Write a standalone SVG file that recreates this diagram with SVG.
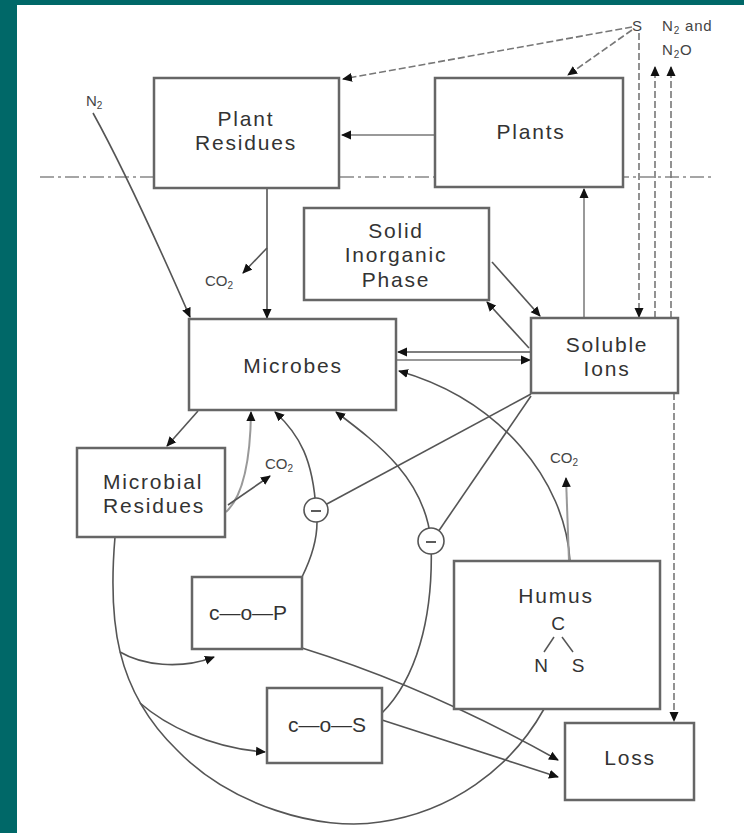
<svg xmlns="http://www.w3.org/2000/svg" width="744" height="833" viewBox="0 0 744 833">
<defs>
<marker id="ah" markerUnits="userSpaceOnUse" markerWidth="10" markerHeight="10" refX="9" refY="5" orient="auto">
<path d="M0,0.5 L10,5 L0,9.5 z" fill="#111"/>
</marker>
<style>
.box{fill:#fff;stroke:#666;stroke-width:2.5}
.lbl{font-family:"Liberation Sans",Arial,sans-serif;font-size:21px;fill:#333;text-anchor:middle;letter-spacing:1.8px}
.chem{font-family:"Liberation Sans",Arial,sans-serif;font-size:21px;fill:#333;text-anchor:middle}
.sm{font-family:"Liberation Sans",Arial,sans-serif;font-size:15px;fill:#444}
.ln{fill:none;stroke:#555;stroke-width:1.6}
.lt{fill:none;stroke:#999;stroke-width:2}
.ds{fill:none;stroke:#777;stroke-width:1.6;stroke-dasharray:7 3}
.gl{fill:none;stroke:#888;stroke-width:1.5;stroke-dasharray:14 4 3 4}
</style>
</defs>
<rect x="0" y="0" width="744" height="833" fill="#006868"/>
<rect x="17" y="5" width="727" height="828" fill="#fff"/>
<line class="gl" x1="40" y1="177" x2="715" y2="177"/>

<g id="connectors">
<path class="ds" d="M632,27 L343,79" marker-end="url(#ah)"/>
<path class="ds" d="M632,30 L568,75" marker-end="url(#ah)"/>
<path class="ds" d="M639,33 L639,317" marker-end="url(#ah)"/>
<path class="ds" d="M655,318 L655,67" marker-end="url(#ah)"/>
<path class="ds" d="M671,318 L671,67" marker-end="url(#ah)"/>
<path class="lt" d="M435,135 L342,135" marker-end="url(#ah)"/>
<path class="lt" d="M584,318 L584,189" marker-end="url(#ah)"/>
<path class="ln" d="M267,188 L267,318" marker-end="url(#ah)"/>
<path class="ln" d="M267,248 L243,273" marker-end="url(#ah)"/>
<path class="ln" d="M93,113 Q130,180 190,317" marker-end="url(#ah)"/>
<path class="ln" d="M492,262 L540,316" marker-end="url(#ah)"/>
<path class="ln" d="M529,348 L487,302" marker-end="url(#ah)"/>
<path class="ln" d="M531,352 L398,352" marker-end="url(#ah)"/>
<path class="lt" d="M396,360 L530,360" marker-end="url(#ah)"/>
<path class="ln" d="M570,561 C565,480 500,400 399,371" marker-end="url(#ah)"/>
<path class="lt" d="M569,561 L566,478" marker-end="url(#ah)"/>
<path class="ln" d="M198,411 L167,446" marker-end="url(#ah)"/>
<path class="lt" d="M226,512 Q250,490 251,412" marker-end="url(#ah)"/>
<path class="ln" d="M228,505 L270,476" marker-end="url(#ah)"/>
<path class="ln" d="M302,577 C318,545 318,522 316,510 C313,460 300,435 275,412" marker-end="url(#ah)"/>
<path class="ln" d="M382,713 C415,680 434,620 431,541 C425,480 380,445 336,412" marker-end="url(#ah)"/>
<path class="ln" d="M531,394 L325,505"/>
<path class="ln" d="M531,396 L438,532"/>
<path class="ln" d="M115,537 C108,620 115,690 177,750 C230,805 320,832 380,822 C450,812 510,770 544,709"/>
<path class="ln" d="M120,652 C142,665 180,670 214,657" marker-end="url(#ah)"/>
<path class="ln" d="M140,703 C165,725 210,748 265,752" marker-end="url(#ah)"/>
<path class="ln" d="M302,648 Q430,688 558,760" marker-end="url(#ah)"/>
<path class="ln" d="M382,720 L558,777" marker-end="url(#ah)"/>
<path class="ds" d="M674,393 L674,721" marker-end="url(#ah)"/>
<circle cx="316" cy="510" r="12" fill="#fff" stroke="#555" stroke-width="1.6"/>
<line x1="311" y1="511" x2="321" y2="511" stroke="#333" stroke-width="1.6"/>
<circle cx="431" cy="541" r="13" fill="#fff" stroke="#555" stroke-width="1.6"/>
<line x1="426" y1="542" x2="436" y2="542" stroke="#333" stroke-width="1.6"/>
</g>

<g id="plant-residues">
<rect class="box" x="154" y="78" width="185" height="110"/>
<text class="lbl" x="246" y="126">Plant</text>
<text class="lbl" x="246" y="150">Residues</text>
</g>
<g id="plants">
<rect class="box" x="435" y="78" width="188" height="109"/>
<text class="lbl" x="531" y="139">Plants</text>
</g>
<g id="solid-inorganic-phase">
<rect class="box" x="304" y="208" width="185" height="92"/>
<text class="lbl" x="396" y="238">Solid</text>
<text class="lbl" x="396" y="262">Inorganic</text>
<text class="lbl" x="396" y="287">Phase</text>
</g>
<g id="microbes">
<rect class="box" x="189" y="319" width="207" height="91"/>
<text class="lbl" x="293" y="373">Microbes</text>
</g>
<g id="soluble-ions">
<rect class="box" x="531" y="318" width="147" height="75"/>
<text class="lbl" x="607" y="352">Soluble</text>
<text class="lbl" x="607" y="376">Ions</text>
</g>
<g id="microbial-residues">
<rect class="box" x="77" y="448" width="148" height="89"/>
<text class="lbl" x="153" y="489">Microbial</text>
<text class="lbl" x="154" y="513">Residues</text>
</g>
<g id="c-o-p">
<rect class="box" x="192" y="577" width="110" height="72"/>
<text class="chem" x="248" y="620">c—o—P</text>
</g>
<g id="c-o-s">
<rect class="box" x="267" y="688" width="115" height="75"/>
<text class="chem" x="327" y="732">c—o—S</text>
</g>
<g id="humus">
<rect class="box" x="454" y="561" width="206" height="148"/>
<text class="lbl" x="556" y="603">Humus</text>
<text class="chem" x="558" y="630" style="font-size:19px">C</text>
<text class="chem" x="541" y="672" style="font-size:19px">N</text>
<text class="chem" x="578" y="672" style="font-size:19px">S</text>
<line x1="554" y1="637" x2="544" y2="652" stroke="#555" stroke-width="1.5"/>
<line x1="562" y1="637" x2="573" y2="652" stroke="#555" stroke-width="1.5"/>
</g>
<g id="loss">
<rect class="box" x="565" y="723" width="129" height="77"/>
<text class="lbl" x="630" y="765">Loss</text>
</g>

<g id="labels">
<text class="sm" x="86" y="106">N<tspan font-size="10" dy="3">2</tspan></text>
<text class="sm" x="205" y="286">CO<tspan font-size="10" dy="3">2</tspan></text>
<text class="sm" x="265" y="469">CO<tspan font-size="10" dy="3">2</tspan></text>
<text class="sm" x="550" y="463">CO<tspan font-size="10" dy="3">2</tspan></text>
<text class="sm" x="632" y="31" font-size="14">S</text>
<text class="sm" x="662" y="31" letter-spacing="0.8">N<tspan font-size="10" dy="3">2</tspan><tspan dy="-3"> and</tspan></text>
<text class="sm" x="662" y="55" letter-spacing="0.8">N<tspan font-size="10" dy="3">2</tspan><tspan dy="-3">O</tspan></text>
</g>
</svg>
